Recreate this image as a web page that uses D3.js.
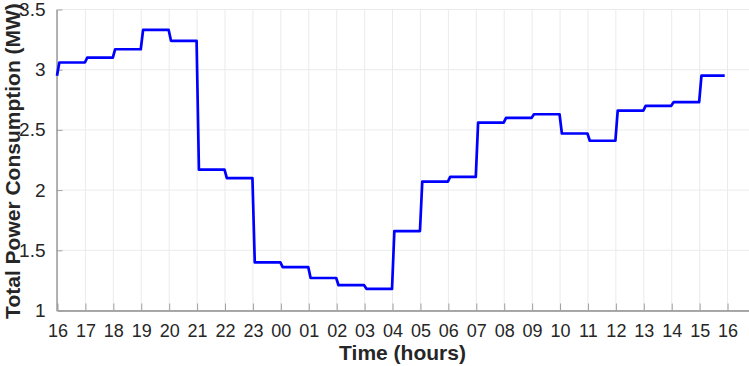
<!DOCTYPE html>
<html>
<head>
<meta charset="utf-8">
<script src="https://cdn.jsdelivr.net/npm/d3@7"></script>
<style>
  html, body { margin: 0; padding: 0; background: #fff; }
  svg { display: block; }
  text { font-family: "Liberation Sans", Arial, Helvetica, sans-serif; }
</style>
</head>
<body>
<svg id="chart" width="749" height="366"></svg>
<script>
// ---- data ----
const hourLabels = ["16","17","18","19","20","21","22","23","00","01","02","03","04","05","06","07","08","09","10","11","12","13","14","15","16"];
// hourly total power (MW), hour starting at 16:00
const hourlyPower = [3.06, 3.10, 3.17, 3.33, 3.24, 2.17, 2.10, 1.40, 1.36, 1.27, 1.21, 1.18, 1.66, 2.07, 2.11, 2.56, 2.60, 2.63, 2.47, 2.41, 2.66, 2.70, 2.73, 2.95];
const startPower = 2.95;          // value carried over at 16:00
const yTicks = [1, 1.5, 2, 2.5, 3, 3.5];
const yTickLabels = ["1", "1.5", "2", "2.5", "3", "3.5"];

// step series sampled every 5 minutes
const sample = 1 / 12;
const pts = [[0, startPower]];
hourlyPower.forEach((v, i) => {
  pts.push([i + sample, v]);
  pts.push([Math.min(i + 1, hourlyPower.length - sample), v]);
});

// ---- layout ----
const svg = d3.select("#chart");
const x = d3.scaleLinear().domain([0, 24.75]).range([57, 748]);
const y = d3.scaleLinear().domain([1, 3.5]).range([310.5, 9.5]);

// grid
const g = svg.append("g");
g.selectAll("line.vg").data(d3.range(hourLabels.length)).enter().append("line")
  .attr("x1", d => x(d) + 0.5).attr("x2", d => x(d) + 0.5)
  .attr("y1", y(3.5)).attr("y2", y(1))
  .attr("stroke", "#ebebeb").attr("stroke-width", 1);
g.selectAll("line.hg").data(yTicks).enter().append("line")
  .attr("x1", x(0)).attr("x2", 749)
  .attr("y1", d => y(d)).attr("y2", d => y(d))
  .attr("stroke", "#ebebeb").attr("stroke-width", 1);

// axes
const xAxis = d3.axisBottom(x).tickValues(d3.range(hourLabels.length))
  .tickFormat((d, i) => hourLabels[i]).tickSizeInner(-7).tickSizeOuter(0).tickPadding(14);
const xg = svg.append("g").attr("transform", `translate(0.5,${y(1)})`).call(xAxis);
xg.select(".domain").attr("stroke", "#8c8c8c").attr("stroke-width", 1.3);
xg.selectAll(".tick line").attr("stroke", "#a0a0a0");
xg.selectAll(".tick text").attr("font-size", 18).attr("fill", "#262626")
  .attr("font-family", "Liberation Sans, Arial, sans-serif");

const yAxis = d3.axisLeft(y).tickValues(yTicks)
  .tickFormat((d, i) => yTickLabels[i]).tickSizeInner(-6).tickSizeOuter(0).tickPadding(11);
const yg = svg.append("g").attr("transform", `translate(${x(0) - 0.5},0)`).call(yAxis);
yg.select(".domain").attr("stroke", "#8c8c8c").attr("stroke-width", 1.3);
yg.selectAll(".tick line").attr("stroke", "#a0a0a0");
yg.selectAll(".tick text").attr("font-size", 19).attr("fill", "#262626")
  .attr("font-family", "Liberation Sans, Arial, sans-serif");

// line
const line = d3.line().x(d => x(d[0])).y(d => y(d[1]));
svg.append("path").datum(pts)
  .attr("d", line).attr("fill", "none")
  .attr("stroke", "#0000ff").attr("stroke-width", 2.7)
  .attr("stroke-linejoin", "round");

// labels
svg.append("text")
  .attr("x", (x(0) + x(24.75)) / 2).attr("y", 360)
  .attr("text-anchor", "middle").attr("font-size", 21).attr("font-weight", "bold")
  .attr("fill", "#262626").text("Time (hours)");
svg.append("text")
  .attr("transform", `translate(20,${(y(1) + y(3.5)) / 2 + 1}) rotate(-90)`)
  .attr("text-anchor", "middle").attr("font-size", 21).attr("font-weight", "bold")
  .attr("fill", "#262626").text("Total Power Consumption (MW)");
</script>
</body>
</html>
